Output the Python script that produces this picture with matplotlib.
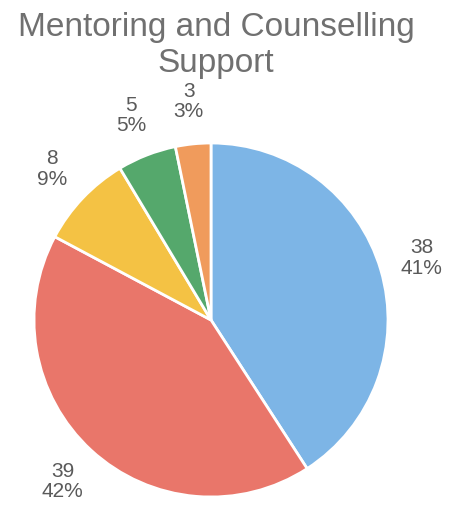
import numpy as np
import matplotlib
matplotlib.use("Agg")
import matplotlib.pyplot as plt

plt.rcParams['font.family'] = ['Liberation Sans', 'DejaVu Sans']

title = "Mentoring and Counselling\nSupport"
values = [38, 39, 8, 5, 3]
colors = ['#7db5e6', '#e9766a', '#f4c244', '#55a86c', '#f09b5c']
text_color = '#5a5a5a'

W, H = 449, 511
fig = plt.figure(figsize=(W / 100, H / 100), dpi=100)
fig.patch.set_facecolor('white')

# axes in pixel units so the pie can be placed like the picture
ax = fig.add_axes([0, 0, 1, 1])
cx, cy, r = 211, 191, 177
wedges, _ = ax.pie(values, colors=colors, startangle=90, counterclock=False,
                   center=(cx, cy), radius=r,
                   wedgeprops=dict(edgecolor='white', linewidth=2))
ax.set_xlim(0, W)
ax.set_ylim(0, H)
ax.set_aspect('equal')
ax.axis('off')

total = sum(values)
for w, v in zip(wedges, values):
    mid = np.deg2rad((w.theta1 + w.theta2) / 2)
    x = cx + 1.24 * r * np.cos(mid)
    y = cy + 1.24 * r * np.sin(mid)
    pct = round(100 * v / total)
    ax.text(x, y, f"{v}\n{pct}%", ha='center', va='center', fontsize=15,
            color=text_color, linespacing=1.1)

fig.text(216 / W, 1 - 12 / H, title, ha='center', va='top', fontsize=24,
         color='#707070', linespacing=1.2)

fig.savefig('out.png', dpi=100)
